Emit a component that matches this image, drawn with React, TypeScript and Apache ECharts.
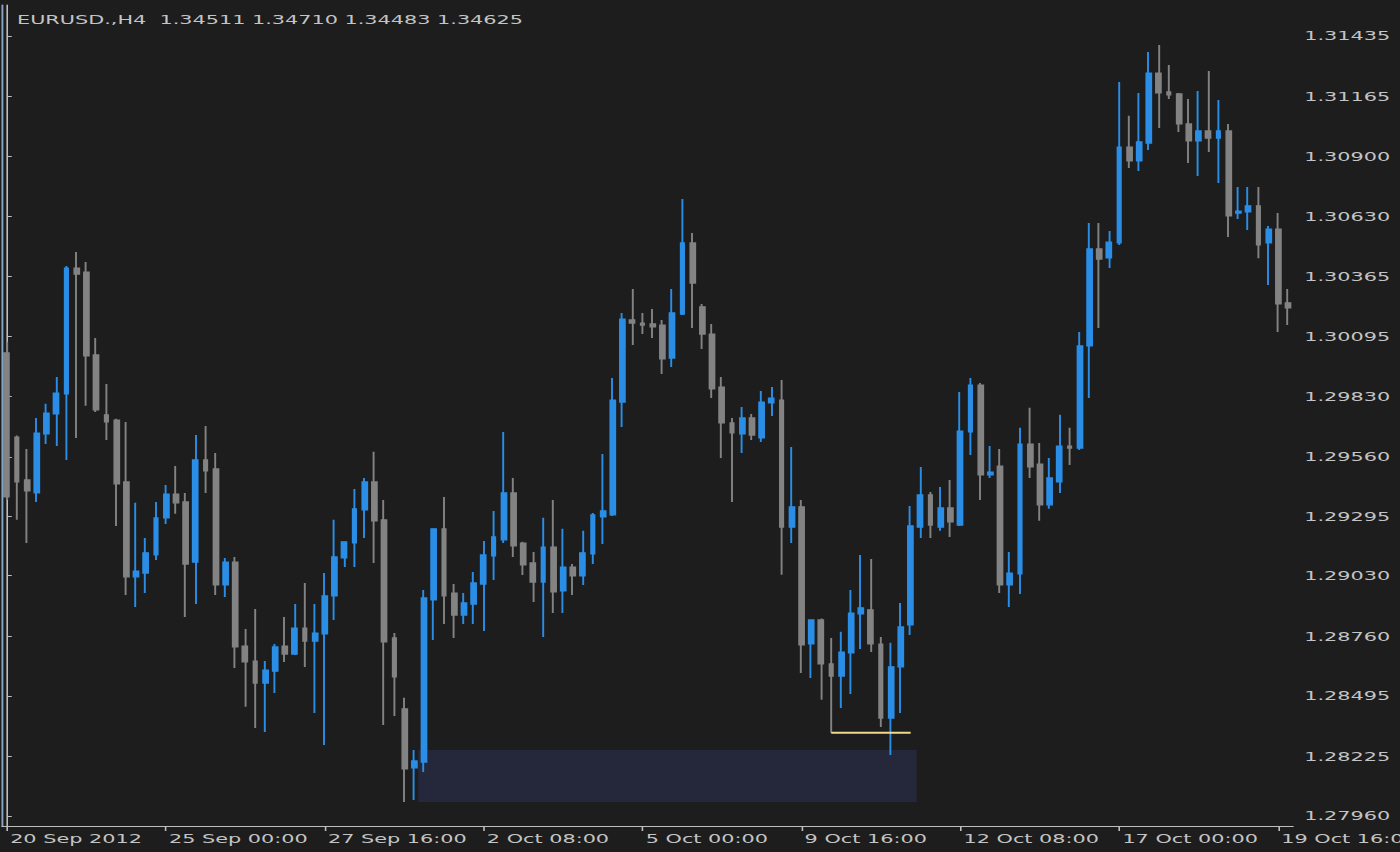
import React, { useEffect, useRef } from 'react';
import * as echarts from 'echarts';

// ---- data (EURUSD H4) ----
const headerText = 'EURUSD.,H4  1.34511 1.34710 1.34483 1.34625';

const openPrices = [
  1.30023, 1.29648, 1.29457, 1.29399, 1.29662, 1.29751, 1.29840, 1.30401, 1.30383, 1.30014,
  1.29747, 1.29724, 1.29448, 1.29025, 1.29042, 1.29123, 1.29288, 1.29394, 1.29359, 1.29091,
  1.29546, 1.29506, 1.28989, 1.29091, 1.28717, 1.28650, 1.28552, 1.28605, 1.28717, 1.28681,
  1.28797, 1.28739, 1.28771, 1.28940, 1.29109, 1.29176, 1.29323, 1.29448, 1.29279, 1.28753,
  1.28437, 1.28174, 1.28200, 1.28922, 1.29239, 1.28953, 1.28855, 1.28904, 1.28993, 1.29118,
  1.29190, 1.29399, 1.29176, 1.29087, 1.29002, 1.29158, 1.28962, 1.29069, 1.29029, 1.29127,
  1.29292, 1.29301, 1.29804, 1.30170, 1.30156, 1.30152, 1.30147, 1.30000, 1.30196, 1.30513,
  1.30228, 1.30107, 1.29871, 1.29711, 1.29662, 1.29733, 1.29644, 1.29800, 1.29813, 1.29247,
  1.29337, 1.28726, 1.28833, 1.28637, 1.28583, 1.28686, 1.28860, 1.28878, 1.28726, 1.28396,
  1.28624, 1.28811, 1.29247, 1.29390, 1.29247, 1.29332, 1.29256, 1.29671, 1.29880, 1.29479,
  1.29519, 1.28989, 1.29038, 1.29617, 1.29528, 1.29346, 1.29448, 1.29608, 1.29599, 1.30054,
  1.30486, 1.30446, 1.30513, 1.30940, 1.30878, 1.30958, 1.31270, 1.31186, 1.31177, 1.31043,
  1.30967, 1.31012, 1.30980, 1.31012, 1.30646, 1.30651, 1.30678, 1.30513, 1.30575, 1.30246
];
const highPrices = [
  1.30072, 1.29655, 1.29595, 1.29733, 1.29796, 1.29916, 1.30410, 1.30473, 1.30428, 1.30089,
  1.29884, 1.29729, 1.29715, 1.29355, 1.29198, 1.29359, 1.29434, 1.29519, 1.29399, 1.29657,
  1.29697, 1.29577, 1.29109, 1.29114, 1.28793, 1.28882, 1.28650, 1.28726, 1.28846, 1.28904,
  1.28998, 1.28904, 1.29042, 1.29279, 1.29181, 1.29417, 1.29466, 1.29582, 1.29368, 1.28775,
  1.28486, 1.28254, 1.28967, 1.29239, 1.29381, 1.28993, 1.28953, 1.29047, 1.29185, 1.29319,
  1.29671, 1.29466, 1.29181, 1.29136, 1.29288, 1.29368, 1.29239, 1.29082, 1.29230, 1.29310,
  1.29573, 1.29911, 1.30201, 1.30308, 1.30201, 1.30219, 1.30170, 1.30308, 1.30709, 1.30557,
  1.30241, 1.30152, 1.29916, 1.29733, 1.29782, 1.29751, 1.29853, 1.29871, 1.29902, 1.29604,
  1.29368, 1.28833, 1.28840, 1.28753, 1.28780, 1.28967, 1.29123, 1.29105, 1.28757, 1.28731,
  1.28909, 1.29341, 1.29515, 1.29403, 1.29425, 1.29457, 1.29849, 1.29911, 1.29889, 1.29608,
  1.29595, 1.29136, 1.29689, 1.29778, 1.29622, 1.29555, 1.29747, 1.29689, 1.30116, 1.30602,
  1.30602, 1.30566, 1.31230, 1.31079, 1.31181, 1.31364, 1.31395, 1.31306, 1.31181, 1.31154,
  1.31190, 1.31279, 1.31150, 1.31043, 1.30762, 1.30762, 1.30762, 1.30588, 1.30646, 1.30308
];
const lowPrices = [
  1.29368, 1.29279, 1.29176, 1.29359, 1.29617, 1.29608, 1.29546, 1.29644, 1.29787, 1.29760,
  1.29635, 1.29252, 1.28944, 1.28891, 1.28953, 1.29100, 1.29261, 1.29306, 1.28846, 1.28904,
  1.29399, 1.28944, 1.28935, 1.28619, 1.28446, 1.28352, 1.28334, 1.28508, 1.28646, 1.28677,
  1.28623, 1.28419, 1.28276, 1.28833, 1.29069, 1.29069, 1.29198, 1.29087, 1.28365, 1.28405,
  1.28022, 1.28031, 1.28156, 1.28744, 1.28815, 1.28753, 1.28815, 1.28815, 1.28784, 1.29011,
  1.29176, 1.29114, 1.29033, 1.28913, 1.28757, 1.28864, 1.28864, 1.28944, 1.28989, 1.29082,
  1.29172, 1.29296, 1.29693, 1.30058, 1.30107, 1.30089, 1.29929, 1.29960, 1.30192, 1.30134,
  1.30040, 1.29822, 1.29555, 1.29359, 1.29577, 1.29635, 1.29626, 1.29742, 1.29034, 1.29176,
  1.28597, 1.28574, 1.28477, 1.28330, 1.28441, 1.28503, 1.28704, 1.28690, 1.28356, 1.28231,
  1.28419, 1.28766, 1.29198, 1.29198, 1.29230, 1.29203, 1.29252, 1.29568, 1.29368, 1.29466,
  1.28953, 1.28891, 1.28949, 1.29466, 1.29275, 1.29328, 1.29399, 1.29524, 1.29590, 1.29822,
  1.30134, 1.30401, 1.30504, 1.30847, 1.30833, 1.30927, 1.31025, 1.31154, 1.31007, 1.30869,
  1.30811, 1.30918, 1.30780, 1.30539, 1.30620, 1.30571, 1.30445, 1.30325, 1.30116, 1.30147
];
const closePrices = [
  1.29381, 1.29448, 1.29408, 1.29666, 1.29755, 1.29844, 1.30401, 1.30374, 1.30009, 1.29769,
  1.29715, 1.29439, 1.29025, 1.29051, 1.29132, 1.29288, 1.29394, 1.29355, 1.29082, 1.29546,
  1.29497, 1.28989, 1.29091, 1.28713, 1.28646, 1.28552, 1.28610, 1.28713, 1.28681, 1.28797,
  1.28739, 1.28775, 1.28940, 1.29114, 1.29181, 1.29328, 1.29448, 1.29274, 1.28735, 1.28579,
  1.28169, 1.28205, 1.28931, 1.29239, 1.28940, 1.28855, 1.28909, 1.28998, 1.29123, 1.29203,
  1.29399, 1.29163, 1.29078, 1.29002, 1.29158, 1.28958, 1.29069, 1.29029, 1.29132, 1.29301,
  1.29319, 1.29813, 1.30174, 1.30156, 1.30147, 1.30139, 1.29996, 1.30201, 1.30513, 1.30334,
  1.30107, 1.29862, 1.29711, 1.29666, 1.29733, 1.29657, 1.29804, 1.29822, 1.29247, 1.29337,
  1.28722, 1.28833, 1.28637, 1.28583, 1.28690, 1.28864, 1.28887, 1.28726, 1.28396, 1.28624,
  1.28802, 1.29252, 1.29390, 1.29256, 1.29332, 1.29270, 1.29675, 1.29880, 1.29479, 1.29492,
  1.28989, 1.29042, 1.29617, 1.29515, 1.29346, 1.29466, 1.29608, 1.29599, 1.30054, 1.30486,
  1.30441, 1.30517, 1.30940, 1.30878, 1.30963, 1.31270, 1.31181, 1.31172, 1.31043, 1.30967,
  1.31012, 1.30980, 1.31012, 1.30633, 1.30655, 1.30678, 1.30504, 1.30575, 1.30241, 1.30223
];

const xTickIndices = [0, 16, 32, 48, 64, 80, 96, 112, 128];
const xTickLabels = [
  '20 Sep 2012', '25 Sep 00:00', '27 Sep 16:00', '2 Oct 08:00', '5 Oct 00:00',
  '9 Oct 16:00', '12 Oct 08:00', '17 Oct 00:00', '19 Oct 16:00'
];
const yTickValues = [
  1.31435, 1.31165, 1.30900, 1.30630, 1.30365, 1.30095, 1.29830,
  1.29560, 1.29295, 1.29030, 1.28760, 1.28495, 1.28225, 1.27960
];
const yMin = 1.27915;
const yMax = 1.31573;

// highlighted zone: [from bar, to bar, upper price, lower price]
const zoneBox = [41.4, 91.6, 1.28254, 1.28022];
// horizontal level line: [bar, price] pairs
const levelLine = [[83, 1.2833], [91, 1.2833]];

// ---- styling ----
const STRETCH = 1.6;
const W = 1400;
const H = 852;
const INNER_W = W / STRETCH;
const BLUE = '#2b8ee6';
const GRAY = '#838383';
const TEXT = '#c4c4c4';
const AXIS = '#bdbdbd';
const FONT = '"DejaVu Sans", sans-serif';

export default function App() {
  const ref = useRef<HTMLDivElement>(null);

  useEffect(() => {
    if (!ref.current) return;
    const chart = echarts.init(ref.current, null, { renderer: 'svg', width: INNER_W, height: H });
    const categories = openPrices.map((_, i) => String(i));
    const candleData = openPrices.map((o, i) => [o, closePrices[i], lowPrices[i], highPrices[i]]);
    const isTick = (i: number) => xTickIndices.indexOf(i) >= 0;

    chart.setOption({
      animation: false,
      backgroundColor: '#1d1d1d',
      textStyle: { fontFamily: FONT },
      graphic: [
        {
          type: 'text',
          left: 17 / STRETCH,
          top: 13,
          style: { text: headerText, fill: TEXT, font: `13px ${FONT}` },
          z: 10
        }
      ],
      grid: {
        left: 2 / STRETCH,
        right: INNER_W - 1293 / STRETCH,
        top: 5,
        bottom: 26,
        containLabel: false,
        outerBoundsMode: 'none'
      },
      xAxis: [
        {
          type: 'category',
          data: categories,
          boundaryGap: true,
          axisLine: { show: true, lineStyle: { color: AXIS, width: 1 } },
          axisTick: {
            show: true,
            alignWithLabel: true,
            length: 5,
            interval: (i: number) => isTick(i),
            lineStyle: { color: AXIS, width: 1 }
          },
          axisLabel: {
            show: true,
            interval: (i: number) => isTick(i),
            formatter: (_v: string, i: number) => {
              const k = xTickIndices.indexOf(i);
              return k >= 0 ? xTickLabels[k] : '';
            },
            align: 'left',
            padding: [0, 0, 0, 2],
            color: TEXT,
            fontSize: 13,
            fontFamily: FONT,
            margin: 6,
            hideOverlap: false
          },
          splitLine: { show: false }
        },
        {
          type: 'value',
          position: 'top',
          min: -0.5,
          max: openPrices.length - 0.5,
          show: false
        }
      ],
      yAxis: [
        {
          type: 'value',
          position: 'right',
          min: yMin,
          max: yMax,
          axisLine: { show: true, lineStyle: { color: AXIS, width: 1 } },
          axisTick: { show: true, length: 3, customValues: yTickValues, lineStyle: { color: AXIS } },
          axisLabel: {
            show: true,
            customValues: yTickValues,
            formatter: (v: number) => v.toFixed(5),
            color: TEXT,
            fontSize: 13,
            fontFamily: FONT,
            margin: 7
          },
          splitLine: { show: false }
        },
        {
          type: 'value',
          position: 'left',
          min: yMin,
          max: yMax,
          axisLine: { show: true, lineStyle: { color: '#86a4c4', width: 1.2 } },
          axisTick: { show: false },
          axisLabel: { show: false },
          splitLine: { show: false }
        }
      ],
      series: [
        {
          type: 'custom',
          xAxisIndex: 1,
          yAxisIndex: 0,
          silent: true,
          z: 1,
          data: [zoneBox],
          renderItem: (_p: any, api: any) => {
            const p1 = api.coord([api.value(0), api.value(2)]);
            const p2 = api.coord([api.value(1), api.value(3)]);
            return {
              type: 'rect',
              shape: { x: p1[0], y: p1[1], width: p2[0] - p1[0], height: p2[1] - p1[1] },
              style: { fill: '#25273a' }
            };
          }
        },
        {
          type: 'candlestick',
          xAxisIndex: 0,
          yAxisIndex: 0,
          data: candleData,
          barWidth: 3.3,
          z: 3,
          itemStyle: {
            color: BLUE,
            color0: GRAY,
            borderColor: BLUE,
            borderColor0: GRAY,
            borderWidth: 1.2
          }
        },
        {
          type: 'line',
          xAxisIndex: 1,
          yAxisIndex: 0,
          data: levelLine,
          symbol: 'none',
          silent: true,
          z: 4,
          lineStyle: { color: '#efd98f', width: 2 }
        }
      ]
    });
    return () => chart.dispose();
  }, []);

  return (
    <div
      style={{
        position: 'absolute',
        left: 0,
        top: 0,
        width: W,
        height: H,
        overflow: 'hidden',
        background: '#1d1d1d'
      }}
    >
      <div
        ref={ref}
        style={{
          width: INNER_W,
          height: H,
          transform: `scaleX(${STRETCH})`,
          transformOrigin: '0 0'
        }}
      />
    </div>
  );
}
